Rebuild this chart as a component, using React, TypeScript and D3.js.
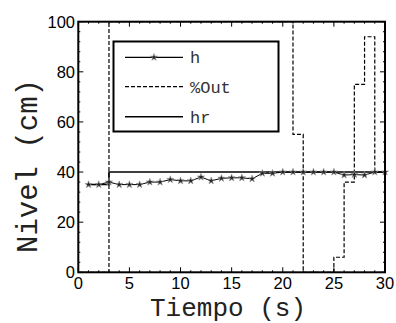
import { useEffect, useRef } from "react";
import * as d3 from "d3";

const tiempo = d3.range(1, 31);
const hValues = [35, 35, 36, 35, 35, 35, 36, 36, 37, 36.5, 36.5, 38, 36.5, 37.5, 37.7, 37.7, 37.3, 39.5, 39.5, 40, 40, 40, 40, 40, 40, 38.8, 39, 38.8, 40, 40];
const outTimes = d3.range(0, 31);
const outValues = [0, 0, 0, 100, 100, 100, 100, 100, 100, 100, 100, 100, 100, 100, 100, 100, 100, 100, 100, 100, 100, 55, 0, 0, 0, 6, 36, 75, 94, 40, 40];
const hrValues = [35, 35, 40, 40, 40, 40, 40, 40, 40, 40, 40, 40, 40, 40, 40, 40, 40, 40, 40, 40, 40, 40, 40, 40, 40, 40, 40, 40, 40, 40];
const xTicks = [0, 5, 10, 15, 20, 25, 30];
const yTicks = [0, 20, 40, 60, 80, 100];
const legendLabels = ["h", "%Out", "hr"];

const mono = "'Liberation Mono', monospace";
const sans = "'Liberation Sans', Arial, sans-serif";

export default function App() {
  const svgRef = useRef<SVGSVGElement | null>(null);
  const width = 396;
  const height = 323;

  useEffect(() => {
    const svg = d3.select(svgRef.current);
    svg.selectAll("*").remove();

    const left = 78.3, right = 385, top = 21.7, bottom = 272.3;
    const x = d3.scaleLinear().domain([0, 30]).range([left, right]);
    const y = d3.scaleLinear().domain([0, 100]).range([bottom, top]);

    const g = svg.append("g");

    // minor + major ticks, inward on all sides
    const ticks = g.append("g").attr("stroke", "#000").attr("stroke-width", 1);
    d3.range(0, 31).forEach((t) => {
      const len = t % 5 === 0 ? 5 : 2;
      ticks.append("line").attr("x1", x(t)).attr("x2", x(t)).attr("y1", bottom).attr("y2", bottom - len);
      ticks.append("line").attr("x1", x(t)).attr("x2", x(t)).attr("y1", top).attr("y2", top + len);
    });
    d3.range(0, 101, 4).forEach((v) => {
      const len = v % 20 === 0 ? 5 : 2;
      ticks.append("line").attr("x1", left).attr("x2", left + len).attr("y1", y(v)).attr("y2", y(v));
      ticks.append("line").attr("x1", right).attr("x2", right - len).attr("y1", y(v)).attr("y2", y(v));
    });

    // %Out
    const outLine = d3
      .line<number>()
      .x((d, i) => x(outTimes[i]))
      .y((d) => y(d))
      .curve(d3.curveStepAfter);
    g.append("path")
      .attr("d", outLine(outValues))
      .attr("fill", "none")
      .attr("stroke", "#000")
      .attr("stroke-width", 1.2)
      .attr("stroke-dasharray", "4,2");

    // hr
    const stepLine = d3
      .line<number>()
      .x((d, i) => x(tiempo[i]))
      .y((d) => y(d))
      .curve(d3.curveStepAfter);
    g.append("path")
      .attr("d", stepLine(hrValues))
      .attr("fill", "none")
      .attr("stroke", "#000")
      .attr("stroke-width", 1.5);

    // h
    const hLine = d3
      .line<number>()
      .x((d, i) => x(tiempo[i]))
      .y((d) => y(d));
    g.append("path")
      .attr("d", hLine(hValues))
      .attr("fill", "none")
      .attr("stroke", "#000")
      .attr("stroke-width", 1);
    const star = d3.symbol().type(d3.symbolStar).size(16);
    g.selectAll(".mk")
      .data(hValues)
      .enter()
      .append("path")
      .attr("d", star)
      .attr("transform", (d, i) => `translate(${x(tiempo[i])},${y(d)})`)
      .attr("fill", "#222")
      .attr("stroke", "#999")
      .attr("stroke-width", 0.6);

    // frame
    g.append("rect")
      .attr("x", left)
      .attr("y", top)
      .attr("width", right - left)
      .attr("height", bottom - top)
      .attr("fill", "none")
      .attr("stroke", "#000")
      .attr("stroke-width", 2);

    // tick labels
    g.selectAll(".xt")
      .data(xTicks)
      .enter()
      .append("text")
      .attr("x", (d) => x(d))
      .attr("y", 289)
      .attr("text-anchor", "middle")
      .style("font-family", sans)
      .style("font-size", "16.5px")
      .text((d) => d);
    g.selectAll(".yt")
      .data(yTicks)
      .enter()
      .append("text")
      .attr("x", 75)
      .attr("y", (d) => y(d) + 6)
      .attr("text-anchor", "end")
      .style("font-family", sans)
      .style("font-size", "16.5px")
      .text((d) => d);

    // axis titles
    g.append("text")
      .attr("x", 228)
      .attr("y", 316)
      .attr("text-anchor", "middle")
      .style("font-family", mono)
      .style("font-size", "26px")
      .attr("fill", "#222")
      .text("Tiempo (s)");
    g.append("text")
      .attr("transform", `translate(37,166) rotate(-90)`)
      .attr("text-anchor", "middle")
      .style("font-family", mono)
      .style("font-size", "29px")
      .attr("fill", "#222")
      .text("Nivel (cm)");

    // legend
    const lg = g.append("g");
    lg.append("rect")
      .attr("x", 113.5)
      .attr("y", 41.5)
      .attr("width", 165)
      .attr("height", 90)
      .attr("fill", "#fff")
      .attr("stroke", "#000")
      .attr("stroke-width", 2);
    const rowsY = [57.3, 86.7, 116.7];
    legendLabels.forEach((lab, i) => {
      const ln = lg.append("line")
        .attr("x1", 125)
        .attr("x2", 183)
        .attr("y1", rowsY[i])
        .attr("y2", rowsY[i])
        .attr("stroke", "#000")
        .attr("stroke-width", i === 2 ? 1.5 : 1.2);
      if (i === 1) ln.attr("stroke-dasharray", "4,2");
      if (i === 0) {
        lg.append("path")
          .attr("d", star)
          .attr("transform", `translate(154,${rowsY[i]})`)
          .attr("fill", "#222")
          .attr("stroke", "#999")
          .attr("stroke-width", 0.6);
      }
      lg.append("text")
        .attr("x", 190)
        .attr("y", rowsY[i] + 6)
        .style("font-family", mono)
        .style("font-size", "17px")
        .attr("fill", "#333")
        .text(lab);
    });
  }, []);

  return (
    <svg
      ref={svgRef}
      width={width}
      height={height}
      style={{ position: "absolute", left: 0, top: 0, background: "#fff" }}
    />
  );
}
